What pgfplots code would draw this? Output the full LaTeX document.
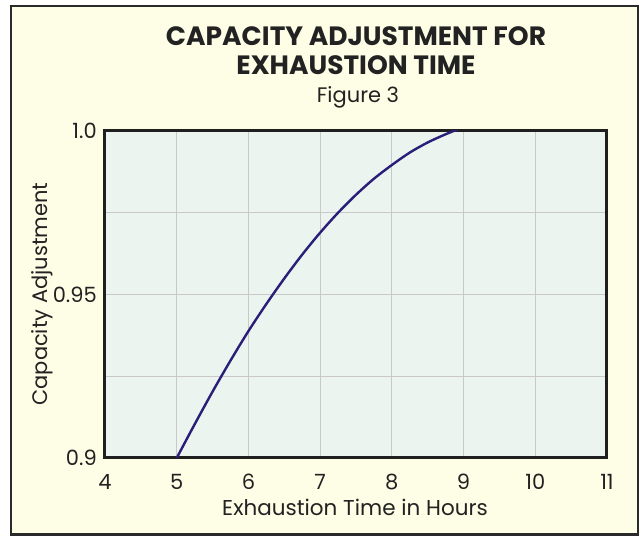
\documentclass[border=0pt]{standalone}
\usepackage{fontspec}
\setmainfont{Poppins}
\usepackage{pgfplots}
\pgfplotsset{compat=1.18}
\definecolor{cream}{HTML}{FEFEE6}
\definecolor{plotbg}{HTML}{EBF4EF}
\definecolor{gridc}{HTML}{C8C8C8}
\definecolor{framec}{HTML}{2A2A2A}
\definecolor{curvec}{HTML}{2A1E78}
\definecolor{txt}{HTML}{222222}
\begin{document}
\begin{tikzpicture}[x=1pt,y=1pt]
\useasboundingbox (0,0) rectangle (641,536);
\fill[white] (0,0) rectangle (641,536);
\draw[line width=2.5pt, draw=framec, fill=cream] (11,1.5) rectangle (638,530);
\node[anchor=base, text=txt, font=\fontsize{26.5}{26.5}\bfseries\selectfont] at (356,490) {CAPACITY ADJUSTMENT FOR};
\node[anchor=base, text=txt, font=\fontsize{26.5}{26.5}\bfseries\selectfont] at (356,461) {EXHAUSTION TIME};
\node[anchor=base, text=txt, font=\fontsize{21}{21}\selectfont] at (358,433) {Figure 3};
\begin{axis}[
  at={(105pt,78pt)}, anchor=south west,
  scale only axis, width=502pt, height=327pt,
  xmin=4, xmax=11, ymin=0.9, ymax=1.0,
  xtick={4,5,6,7,8,9,10,11},
  ytick={0.9,0.95,1.0},
  yticklabels={0.9,0.95,1.0},
  minor ytick={0.925,0.975},
  grid=both,
  major grid style={draw=gridc, line width=1.2pt},
  minor grid style={draw=gridc, line width=1.2pt},
  axis background/.style={fill=plotbg},
  axis line style={line width=3pt, draw=black!88},
  tick style={draw=none},
  ticklabel style={font=\fontsize{21}{21}\selectfont, text=txt},
  xticklabel style={inner sep=0pt, yshift=-16pt},
  yticklabel style={inner sep=0pt, xshift=-8pt},
  /pgf/number format/assume math mode=true,
  xticklabels={4,5,6,7,8,9,10,11},
]
\addplot[curvec, line width=2.4pt, smooth] coordinates {
(5,0.9) (5.25,0.9103) (5.5,0.9203) (5.75,0.9298) (6,0.9388) (6.25,0.9471) (6.5,0.9549) (6.75,0.9622) (7,0.9689) (7.25,0.9750) (7.5,0.9805) (7.75,0.9854) (8,0.9896) (8.25,0.9934) (8.5,0.9965) (8.75,0.9990) (9,1.0012)
};
\end{axis}
\node[anchor=base, text=txt, font=\fontsize{21.5}{21.5}\selectfont] at (355,20) {Exhaustion Time in Hours};
\node[anchor=base, rotate=90, text=txt, font=\fontsize{21}{21}\selectfont] at (47,242) {Capacity Adjustment};
\end{tikzpicture}
\end{document}
